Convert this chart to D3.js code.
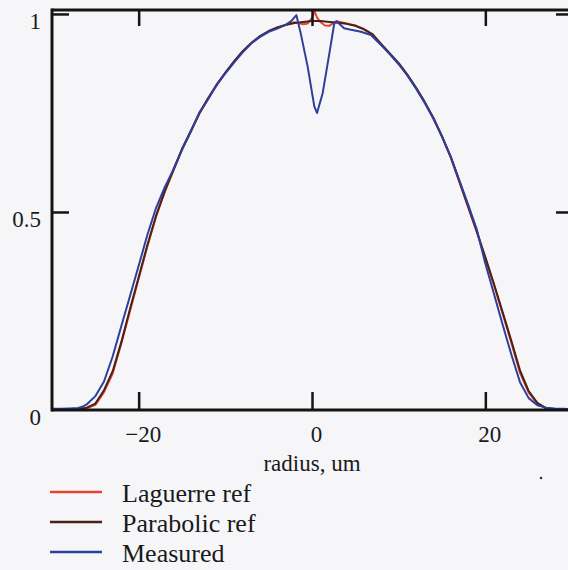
<!DOCTYPE html>
<html>
<head>
<meta charset="utf-8">
<script src="https://cdn.jsdelivr.net/npm/d3@7"></script>
<style>
  html, body { margin: 0; padding: 0; background: #f6f6f9; }
  svg { display: block; }
  text { font-family: "Liberation Serif", "Times New Roman", serif; fill: #1a1a1a; }
</style>
</head>
<body>
<svg id="chart" width="568" height="570"></svg>
<script>
// ---------------- DATA ----------------
const radius = [-30, -29, -28, -27, -26, -25, -24, -23, -22, -21, -20, -19, -18, -17, -16, -15, -14, -13, -12, -11, -10, -9, -8, -7, -6, -5, -4, -3, -2, -1, -0.5, 0, 0.3, 0.6, 1, 1.5, 2, 2.5, 3, 4, 5, 6, 7, 8, 9, 10, 11, 12, 13, 14, 15, 16, 17, 18, 19, 20, 21, 22, 23, 24, 25, 26, 27, 28, 29, 30];

const laguerreRef = [0, 0, 0, 0.001, 0.004, 0.013, 0.045, 0.092, 0.168, 0.25, 0.332, 0.413, 0.488, 0.55, 0.604, 0.658, 0.703, 0.748, 0.786, 0.82, 0.851, 0.879, 0.905, 0.926, 0.943, 0.956, 0.966, 0.972, 0.979, 0.974, 0.976, 0.99, 1.006, 0.99, 0.979, 0.971, 0.97, 0.978, 0.981, 0.976, 0.971, 0.962, 0.949, 0.923, 0.899, 0.875, 0.846, 0.813, 0.777, 0.737, 0.69, 0.638, 0.576, 0.513, 0.45, 0.383, 0.315, 0.243, 0.17, 0.094, 0.044, 0.016, 0.004, 0.001, 0, 0];

const parabolicRef = [0, 0, 0, 0.002, 0.006, 0.016, 0.05, 0.098, 0.172, 0.255, 0.335, 0.416, 0.49, 0.552, 0.606, 0.659, 0.704, 0.749, 0.787, 0.821, 0.852, 0.88, 0.906, 0.927, 0.944, 0.957, 0.966, 0.973, 0.977, 0.98, 0.981, 0.982, 0.982, 0.982, 0.982, 0.981, 0.98, 0.979, 0.978, 0.975, 0.97, 0.961, 0.948, 0.924, 0.9, 0.876, 0.847, 0.814, 0.778, 0.738, 0.691, 0.64, 0.578, 0.515, 0.452, 0.386, 0.318, 0.247, 0.175, 0.1, 0.048, 0.018, 0.005, 0.001, 0, 0];

const radiusMeasured = [-30, -29, -28, -27, -26.5, -26, -25, -24, -23, -22, -21, -20, -19, -18, -17, -16, -15, -14, -13, -12, -11, -10, -9, -8, -7, -6, -5, -4, -3, -2.4, -1.8, -1.3, -0.5, 0.27, 0.58, 1.23, 2.0, 2.57, 2.8, 3.7, 4.5, 5.65, 6.8, 8, 9, 10, 11, 12, 13, 14, 15, 16, 17, 18, 19, 20, 21, 22, 23, 24, 25, 26, 27, 28, 29, 30];

const measured = [0.003, 0.003, 0.004, 0.005, 0.008, 0.014, 0.035, 0.072, 0.135, 0.212, 0.288, 0.364, 0.442, 0.51, 0.562, 0.607, 0.657, 0.702, 0.751, 0.784, 0.822, 0.85, 0.877, 0.903, 0.926, 0.942, 0.955, 0.963, 0.973, 0.982, 0.997, 0.951, 0.867, 0.766, 0.75, 0.80, 0.90, 0.976, 0.982, 0.964, 0.96, 0.955, 0.947, 0.921, 0.898, 0.873, 0.845, 0.812, 0.776, 0.736, 0.691, 0.64, 0.58, 0.52, 0.457, 0.37, 0.293, 0.215, 0.14, 0.07, 0.03, 0.012, 0.006, 0.004, 0.003, 0.002];

const xTicks = [-20, 0, 20];
const xTickLabels = ["\u221220", "0", "20"];
const yTicks = [0, 0.5, 1];
const yTickLabels = ["0", "0.5", "1"];
const seriesNames = ["Laguerre ref", "Parabolic ref", "Measured"];
const seriesColors = ["#e4452f", "#4b2117", "#2c3f9c"];

// ---------------- CHART ----------------
const svg = d3.select("#chart");
const mLeft = 52, mRight = 572, mTop = 10, mBottom = 410;

const x = d3.scaleLinear().domain([-30, 30]).range([mLeft, mRight]);
const y = d3.scaleLinear().domain([0, 1.01]).range([mBottom, mTop]);

const axisColor = "#141414";

// Curves
const line = d3.line().x(d => x(d[0])).y(d => y(d[1])).curve(d3.curveLinear);
const series = [
  { name: seriesNames[0], xs: radius, ys: laguerreRef, color: seriesColors[0] },
  { name: seriesNames[1], xs: radius, ys: parabolicRef, color: seriesColors[1] },
  { name: seriesNames[2], xs: radiusMeasured, ys: measured, color: seriesColors[2] }
];
const plot = svg.append("g");
[0, 1, 2].forEach(i => {
  const s = series[i];
  plot.append("path")
    .datum(s.xs.map((v, k) => [v, s.ys[k]]))
    .attr("d", line)
    .attr("fill", "none")
    .attr("stroke", s.color)
    .attr("stroke-width", 2)
    .attr("stroke-linejoin", "round");
});

// Frame (axes lines)
const frame = svg.append("g").attr("stroke", axisColor).attr("stroke-width", 3);
frame.append("line").attr("x1", mLeft).attr("x2", mLeft).attr("y1", mTop - 1.5).attr("y2", mBottom + 1.5);
frame.append("line").attr("x1", mLeft).attr("x2", mRight).attr("y1", mTop).attr("y2", mTop);
frame.append("line").attr("x1", mLeft).attr("x2", mRight).attr("y1", mBottom).attr("y2", mBottom);
frame.append("line").attr("x1", mRight).attr("x2", mRight).attr("y1", mTop).attr("y2", mBottom);

// Bottom axis ticks (inward) + labels
const xAxisB = d3.axisBottom(x).tickValues(xTicks).tickSizeInner(-18).tickSizeOuter(0)
  .tickFormat((d, i) => xTickLabels[i]).tickPadding(16);
const gxb = svg.append("g").attr("transform", `translate(0,${mBottom})`).call(xAxisB);
gxb.select(".domain").remove();
gxb.selectAll(".tick line").attr("stroke", axisColor).attr("stroke-width", 2.5);
gxb.selectAll(".tick text").attr("font-size", 23).attr("font-family", "Liberation Serif")
  .attr("fill", "#1a1a1a").attr("dx", 4);

// Top axis ticks (inward)
const xAxisT = d3.axisTop(x).tickValues(xTicks).tickSizeInner(-16).tickSizeOuter(0).tickFormat("");
const gxt = svg.append("g").attr("transform", `translate(0,${mTop})`).call(xAxisT);
gxt.select(".domain").remove();
gxt.selectAll(".tick line").attr("stroke", axisColor).attr("stroke-width", 2.5);

// Left axis ticks (inward) + labels
const yAxisL = d3.axisLeft(y).tickValues(yTicks).tickSizeInner(-17).tickSizeOuter(0)
  .tickFormat((d, i) => yTickLabels[i]).tickPadding(11);
const gyl = svg.append("g").attr("transform", `translate(${mLeft},0)`).call(yAxisL);
gyl.select(".domain").remove();
gyl.selectAll(".tick line").attr("stroke", axisColor).attr("stroke-width", 2.5)
  .attr("opacity", d => d === 0 ? 0 : 1);
gyl.selectAll(".tick text").attr("font-size", 23).attr("font-family", "Liberation Serif")
  .attr("fill", "#1a1a1a").attr("dy", "0.62em");

// Right axis ticks (inward)
const yAxisR = d3.axisRight(y).tickValues([0.5, 1]).tickSizeInner(-16).tickSizeOuter(0).tickFormat("");
const gyr = svg.append("g").attr("transform", `translate(${mRight},0)`).call(yAxisR);
gyr.select(".domain").remove();
gyr.selectAll(".tick line").attr("stroke", axisColor).attr("stroke-width", 2.5);

// X axis title
svg.append("text").attr("x", x(0)).attr("y", 471).attr("text-anchor", "middle")
  .attr("font-size", 23).text("radius, um");

// stray dot from the reference
svg.append("circle").attr("cx", 541).attr("cy", 478).attr("r", 1.3).attr("fill", "#333");

// Legend
const legend = svg.append("g");
seriesNames.forEach((name, i) => {
  const yy = 492 + i * 30;
  legend.append("line").attr("x1", 50).attr("x2", 102).attr("y1", yy).attr("y2", yy)
    .attr("stroke", seriesColors[i]).attr("stroke-width", 2.5);
  legend.append("text").attr("x", 122).attr("y", yy + 10).attr("font-size", 26).text(name);
});
</script>
</body>
</html>
